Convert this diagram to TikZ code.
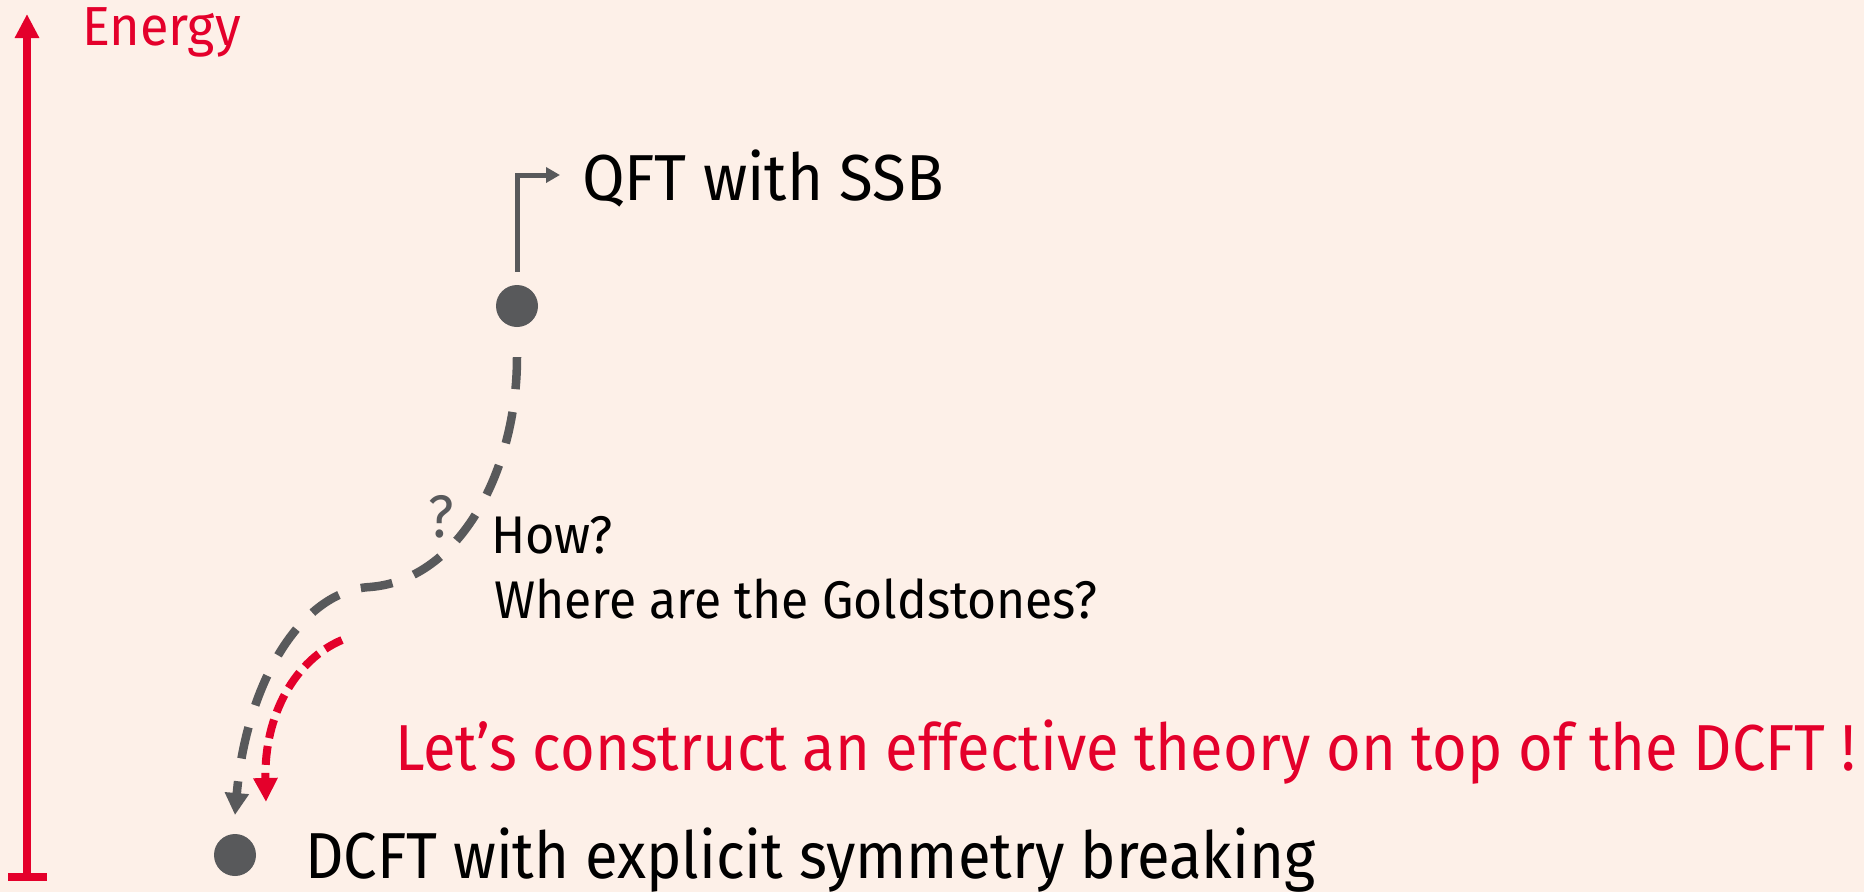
\documentclass[tikz,border=0pt]{standalone}
\usepackage{fontspec}
\setmainfont{Fira Sans}
\usetikzlibrary{arrows.meta}
\definecolor{bgc}{HTML}{FDF0E8}
\definecolor{redc}{HTML}{E4002B}
\definecolor{grayc}{HTML}{58595B}
\tikzset{
  lbl/.style={inner sep=0pt, outer sep=0pt, anchor=base west},
  dotn/.style={circle, fill=grayc, minimum size=42pt, inner sep=0pt},
  graydash/.style={draw=grayc, line width=8.5pt, dash pattern=on 32pt off 23pt,
     -{Triangle[width=23pt,length=22pt]}},
  reddash/.style={draw=redc, line width=8pt, dash pattern=on 19pt off 8pt,
     -{Triangle[width=23pt,length=24pt]}},
}
\begin{document}
\begin{tikzpicture}[x=1pt,y=-1pt]
\useasboundingbox (0,0) rectangle (1864,892);
\fill[bgc] (0,0) rectangle (1864,892);
% energy axis
\coordinate (ebot) at (27,881);
\coordinate (etop) at (27,14);
\draw[redc, line width=8pt, {Bar[width=39pt]}-{Triangle[width=23pt,length=24pt]}] (ebot) -- (etop);
\node[lbl, text=redc, font=\fontsize{55}{60}\selectfont] (energy) at (82,45) {\scalebox{0.95}[1]{Energy}};
% dots
\node[dotn] (top) at (517,306) {};
\node[dotn] (bot) at (235,855) {};
% labels
\node[lbl, font=\fontsize{65}{70}\selectfont] (qft) at (582,200) {\scalebox{0.95}[1]{QFT with SSB}};
\node[lbl, font=\fontsize{65}{70}\selectfont] (dcft) at (305,878) {\scalebox{0.92}[1]{DCFT with explicit symmetry breaking}};
\node[lbl, font=\fontsize{53}{56}\selectfont] (how) at (491,553) {\scalebox{0.95}[1]{How?}};
\node[lbl, font=\fontsize{53}{56}\selectfont] (where) at (494,618) {\scalebox{0.94}[1]{Where are the Goldstones?}};
\node[lbl, text=grayc, font=\fontsize{60}{64}\selectfont] (qm) at (428,537) {\scalebox{0.92}[1]{?}};
\node[lbl, text=redc, font=\fontsize{65}{70}\selectfont] (lets) at (395,770) {\scalebox{0.917}[1]{Let’s construct an effective theory on top of the DCFT !}};
% elbow arrow
\coordinate (qin) at (560,175);
\draw[grayc, line width=5pt, -{Triangle[width=15pt,length=14pt]}] ([yshift=13pt]top.north) |- (qin);
% dashed flows
\coordinate (gend) at (235,815);
\coordinate (gmid) at (370,587);
\draw[graydash] ([yshift=-30pt]top.south) .. controls (517,470) and (460,580) .. (gmid)
   .. controls (300,591) and (246,685) .. (gend);
\coordinate (rstart) at (342,640);
\coordinate (rend) at (266,802);
\draw[reddash] (rstart) .. controls (295,660) and (264,715) .. (rend);
\end{tikzpicture}
\end{document}
